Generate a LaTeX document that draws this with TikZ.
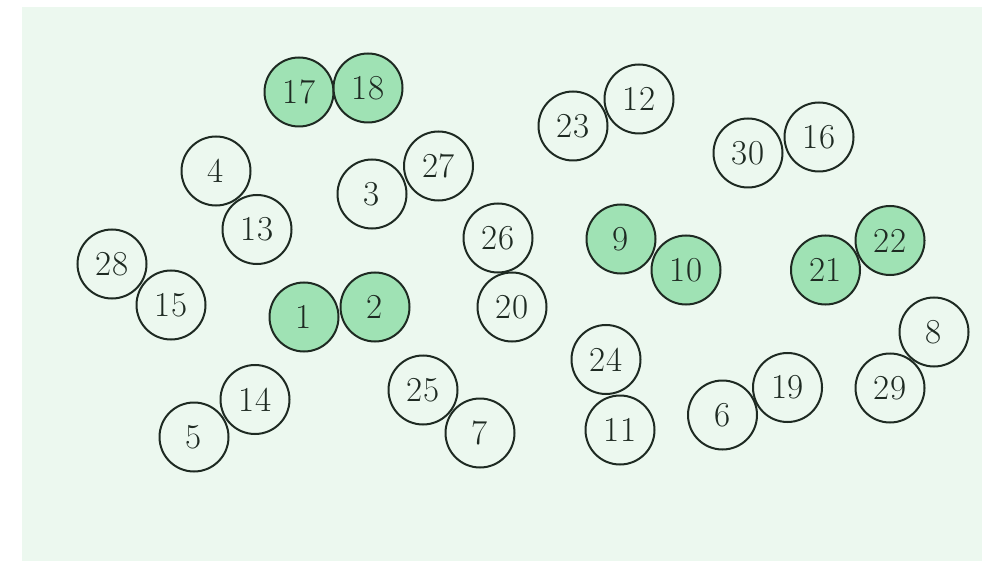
\documentclass[tikz,border=0pt]{standalone}
\usepackage{tikz}
\definecolor{bgc}{HTML}{ECF8EF}
\definecolor{hot}{HTML}{9FE2B4}
\definecolor{ink}{HTML}{1E2A22}
\begin{document}
\begin{tikzpicture}[x=1pt,y=-1pt,
  ball/.style={circle,draw=ink,line width=2pt,minimum size=69pt,inner sep=0pt,
    text=ink,font=\fontsize{35}{40}\selectfont},
  hotball/.style={ball,fill=hot}]
\useasboundingbox (0,0) rectangle (982,561);
\fill[bgc] (22,7) rectangle (982,561);
\node[hotball] (n17) at (299,92) {17};
\node[hotball] (n18) at (368,88) {18};
\node[ball] (n23) at (573,126) {23};
\node[ball] (n12) at (639,99) {12};
\node[ball] (n30) at (748,153) {30};
\node[ball] (n16) at (819,137) {16};
\node[ball] (n4) at (216,171) {4};
\node[ball] (n13) at (257,229.5) {13};
\node[ball] (n3) at (372,194) {3};
\node[ball] (n27) at (438.5,166) {27};
\node[ball] (n28) at (112,264) {28};
\node[ball] (n15) at (171,305) {15};
\node[ball] (n26) at (498,238) {26};
\node[ball] (n20) at (512,307) {20};
\node[hotball] (n9) at (621,239) {9};
\node[hotball] (n10) at (686,270) {10};
\node[hotball] (n22) at (890,240.5) {22};
\node[hotball] (n21) at (825.5,270) {21};
\node[ball] (n8) at (934,332) {8};
\node[ball] (n29) at (890,388) {29};
\node[hotball] (n1) at (304,317) {1};
\node[hotball] (n2) at (375,307) {2};
\node[ball] (n14) at (255,399.5) {14};
\node[ball] (n5) at (194,437) {5};
\node[ball] (n25) at (423,390) {25};
\node[ball] (n7) at (480,433) {7};
\node[ball] (n24) at (606,359.5) {24};
\node[ball] (n11) at (620,430) {11};
\node[ball] (n6) at (722.5,415) {6};
\node[ball] (n19) at (787.5,387.5) {19};
\end{tikzpicture}
\end{document}
